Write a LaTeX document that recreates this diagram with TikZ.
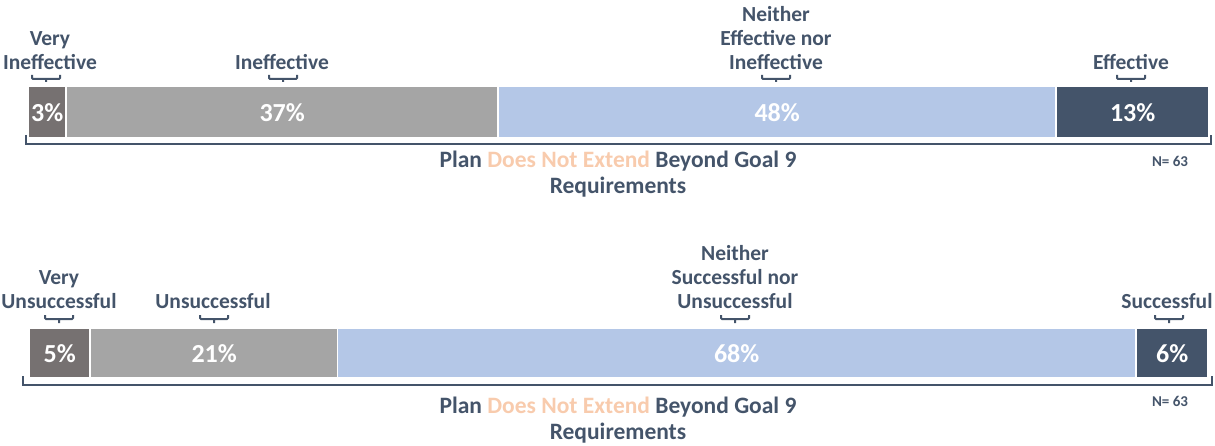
\documentclass[tikz,border=0pt]{standalone}
\usepackage{fontspec}
\setmainfont{Carlito}
\definecolor{vgrey}{HTML}{767171}
\definecolor{lgrey}{HTML}{A5A5A5}
\definecolor{lblue}{HTML}{B4C7E7}
\definecolor{navy}{HTML}{44546A}
\definecolor{peach}{HTML}{F8CBAD}
\begin{document}
\begin{tikzpicture}[x=1pt,y=-1pt,
  seg/.style={anchor=north west,inner sep=0pt,text=white,
    font=\bfseries\fontsize{26}{26}\selectfont},
  lab/.style={anchor=south,inner sep=0pt,align=center,text=navy,
    font=\bfseries\fontsize{21.5}{24}\selectfont},
  ttl/.style={anchor=north,inner sep=0pt,align=center,text=navy,
    font=\bfseries\fontsize{23.5}{25.5}\selectfont},
  nn/.style={anchor=base,inner sep=0pt,text=navy,
    font=\bfseries\fontsize{15}{15}\selectfont},
  brk/.style={navy,line width=2pt,rounded corners=1pt},
  span/.style={navy,line width=2.5pt}]
\useasboundingbox (0,0) rectangle (1215,446);
% first bar
\node[seg,fill=vgrey,minimum width=36pt,minimum height=50pt] (va) at (29,87) {3\%};
\node[seg,fill=lgrey,minimum width=430pt,minimum height=50pt] (ia) at (67,87) {37\%};
\node[seg,fill=lblue,minimum width=556pt,minimum height=50pt] (na) at (499,87) {48\%};
\node[seg,fill=navy,minimum width=151pt,minimum height=50pt] (ea) at (1057,87) {13\%};
\node[lab] (lva) at (50,70) {Very\\Ineffective};
\node[lab] (lia) at (282,70) {Ineffective};
\node[lab] (lna) at (776,70) {Neither\\Effective nor\\Ineffective};
\node[lab] (lea) at (1131,70) {Effective};
\foreach \cx in {46,283,776,1131}
  \draw[brk] (\cx-14,75) -- (\cx-14,79) -- (\cx+14,79) -- (\cx+14,75) (\cx,79) -- (\cx,82);
\draw[span] (26,135) -- (26,144) -- (1211,144) -- (1211,135);
\node[ttl] (ta) at (618,151) {Plan {\color{peach}Does Not Extend} Beyond Goal 9\\Requirements};
\node[nn] (na) at (1170,167) {N= 63};
% second bar
\node[seg,fill=vgrey,minimum width=59pt,minimum height=48pt] (vb) at (30,329) {5\%};
\node[seg,fill=lgrey,minimum width=246pt,minimum height=48pt] (ub) at (91,329) {21\%};
\node[seg,fill=lblue,minimum width=797pt,minimum height=48pt] (nb) at (338,329) {68\%};
\node[seg,fill=navy,minimum width=70pt,minimum height=48pt] (sb) at (1137,329) {6\%};
\node[lab] (lvb) at (59,309) {Very\\Unsuccessful};
\node[lab] (lub) at (213,309) {Unsuccessful};
\node[lab] (lnb) at (735,309) {Neither\\Successful nor\\Unsuccessful};
\node[lab] (lsb) at (1167,309) {Successful};
\foreach \cx in {59,214,735,1169}
  \draw[brk] (\cx-14,315) -- (\cx-14,319) -- (\cx+14,319) -- (\cx+14,315) (\cx,319) -- (\cx,323);
\draw[span] (23,376) -- (23,385) -- (1212,385) -- (1212,376);
\node[ttl] (tb) at (618,397) {Plan {\color{peach}Does Not Extend} Beyond Goal 9\\Requirements};
\node[nn] (nb) at (1170,406) {N= 63};
\end{tikzpicture}
\end{document}
